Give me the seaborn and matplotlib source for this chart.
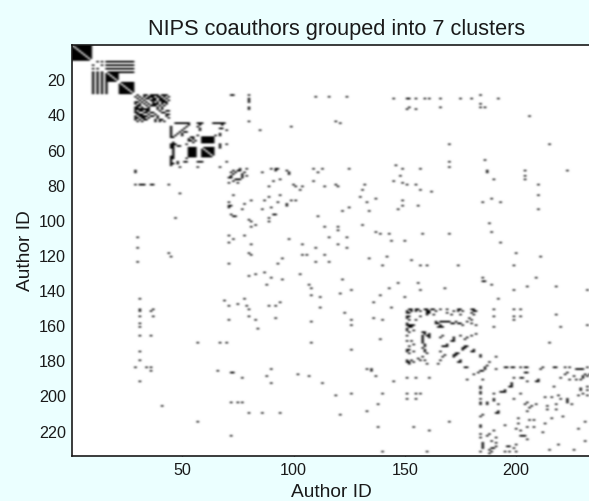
import numpy as np
import matplotlib
matplotlib.use("Agg")
import matplotlib.pyplot as plt
import seaborn as sns

N_AUTHORS = 234
tick_values = [20, 40, 60, 80, 100, 120, 140, 160, 180, 200, 220]
xtick_values = [50, 100, 150, 200]

# cliques: authors fully linked to each other
clique_1 = list(range(1, 10))
clique_2a = list(range(16, 22))
clique_2b = list(range(22, 29))
clique_4b = list(range(59, 65))
# bipartite groups
hubs_2 = [10, 12, 14, 16]
hub_targets_2 = [12, 14, 16, 17, 18, 19, 20, 21, 22, 23, 24, 25, 26, 27, 28]
group_4a = [53, 54, 55, 56]
group_4b = [59, 60, 61, 62, 63, 64]
one_way_col46 = [56, 57, 58, 59, 60, 61, 62, 63, 64, 65]

links_c3 = [(29, b) for b in [30, 33, 34, 36, 37, 38, 39, 41, 42, 43]] + \
           [(30, b) for b in [31, 33, 35, 36, 37, 39, 40, 42, 44]] + \
           [(31, b) for b in [32, 34, 35, 37, 38, 40, 41, 43]] + \
           [(32, b) for b in [33, 36, 37, 38, 40, 41, 42, 44]] + \
           [(33, b) for b in [34, 37, 39, 41, 42, 43]] + \
           [(34, b) for b in [35, 37, 38, 39, 41, 43]] + \
           [(35, b) for b in [36, 37, 38, 40, 42]] + \
           [(36, 39), (36, 41), (37, 39), (37, 41),
            (38, 40), (38, 43), (38, 44), (39, 41), (39, 42), (40, 43), (40, 44),
            (41, 43), (42, 44)]

links_c4 = [(45, b) for b in [47, 48, 49, 50, 51, 52, 53, 57, 58, 59, 64, 65, 66, 67, 68, 69]] + \
           [(46, 53), (47, 52), (48, 51), (49, 50), (46, 58), (48, 58), (49, 58),
            (50, 52), (50, 51), (48, 67), (48, 68), (49, 70), (51, 67), (52, 67),
            (52, 65), (47, 57), (52, 57), (57, 67), (57, 70), (58, 67), (59, 67),
            (53, 54), (53, 55), (54, 55), (55, 56), (67, 70), (46, 68)]

links_c5 = [(71, 76), (71, 79), (72, 75), (73, 72), (74, 73), (75, 77), (75, 79),
            (76, 72), (77, 76), (78, 73), (79, 71), (72, 76), (74, 77)]

links_left = [(29, 72), (29, 80), (31, 80), (33, 80), (36, 80), (44, 80), (73, 29)]
links_col80 = [(29, 80), (31, 80), (32, 80), (33, 80), (37, 80), (44, 80)]

links_far_1 = [(29, 184), (30, 110), (30, 116), (30, 124), (31, 145), (31, 151),
               (31, 152), (31, 155), (31, 159), (31, 161), (31, 166), (31, 175),
               (31, 180), (31, 192), (34, 184), (36, 184), (36, 186), (36, 166),
               (36, 152), (37, 151), (37, 155), (41, 206), (44, 119), (45, 121),
               (47, 99), (49, 85), (57, 170), (57, 215), (66, 186), (67, 170),
               (70, 170), (69, 146), (71, 149), (71, 157), (71, 90), (71, 92),
               (71, 93), (71, 109), (71, 113), (71, 125), (72, 92), (72, 97),
               (72, 187), (72, 204), (72, 223), (73, 86), (73, 98), (73, 111),
               (73, 187), (74, 98), (75, 148), (75, 204), (77, 94), (77, 190),
               (77, 204), (78, 91), (78, 109), (78, 145), (79, 149), (80, 100),
               (80, 119), (80, 132), (80, 151), (80, 155), (80, 210)]
links_far_2 = [(81, 89), (81, 101), (81, 104), (81, 114), (81, 120), (83, 103),
               (83, 131), (83, 157), (84, 162), (86, 94), (86, 210), (87, 89),
               (87, 130), (88, 137), (88, 189), (89, 99), (89, 101), (89, 149),
               (90, 93), (90, 133), (90, 185), (90, 193), (91, 97), (92, 97),
               (92, 149), (92, 156), (93, 125), (94, 147), (94, 210), (95, 122),
               (95, 134), (98, 111), (102, 188), (103, 131), (104, 114), (104, 120),
               (106, 120), (107, 137), (107, 189), (108, 139), (108, 143), (108, 158),
               (108, 170), (110, 116), (110, 124), (112, 144), (112, 150), (113, 193),
               (114, 120), (116, 124), (119, 200), (121, 142), (121, 211), (122, 134)]
links_far_3 = [(123, 153), (126, 140), (126, 157), (126, 160), (126, 174), (126, 199),
               (136, 147), (139, 143), (136, 156), (140, 157), (139, 168), (133, 185),
               (135, 185), (135, 186), (137, 189), (140, 199), (138, 205), (133, 209),
               (138, 218), (145, 192), (140, 232), (144, 150), (151, 190), (155, 190),
               (161, 190), (151, 199), (151, 202), (155, 199), (155, 202), (157, 199),
               (154, 218), (161, 220), (170, 215), (178, 191), (178, 184), (160, 232)]

links_c6 = [(151, b) for b in [152, 153, 155, 156, 159, 160, 162, 163, 166, 169,
                               174, 175, 180, 181]] + \
           [(152, b) for b in [153, 155, 157, 160, 161, 164, 172, 174, 176, 182]] + \
           [(153, 160), (153, 161), (153, 180), (154, 160), (154, 163), (154, 171),
            (154, 175), (155, 157), (159, 165), (158, 166), (158, 168), (158, 170),
            (159, 172), (159, 174), (160, 176), (158, 178), (157, 180), (160, 182),
            (161, 165), (161, 167), (167, 172), (166, 175), (167, 178),
            (166, 180), (165, 182), (172, 177), (172, 178),
            (176, 174), (177, 173), (177, 184),
            (158, 164), (158, 167), (158, 169), (159, 171), (168, 177),
            (153, 169), (154, 171), (151, 174), (158, 173), (159, 175), (156, 179),
            (152, 181), (154, 181), (159, 180), (169, 172), (169, 171), (168, 172),
            (173, 176), (174, 181), (175, 180), (175, 181), (166, 167),
            (160, 166), (161, 166), (164, 159), (166, 161)]

links_c7 = [(184, b) for b in [195, 196, 198, 199, 202, 204, 205, 212, 217, 218, 222, 224, 232]] + \
           [(185, b) for b in [191, 211, 228, 230, 227]] + \
           [(181, 188), (183, 187), (185, 186), (184, 186), (187, 204), (187, 205),
            (190, 199), (190, 203), (191, 210), (190, 202), (192, 205), (192, 209),
            (192, 210), (193, 198), (194, 198), (195, 198), (195, 197), (199, 202),
            (187, 223), (188, 222), (190, 220), (191, 224), (191, 227), (191, 229),
            (189, 226), (188, 231), (189, 232), (189, 230), (195, 217), (196, 229),
            (195, 232), (197, 232), (199, 230), (200, 228), (200, 232), (201, 213),
            (201, 216), (200, 219), (202, 220), (202, 223), (203, 223), (204, 223),
            (205, 225), (206, 214), (208, 214), (205, 218), (208, 218), (205, 209),
            (206, 207), (204, 205), (213, 216), (212, 221), (215, 231), (219, 228),
            (226, 231), (188, 233), (190, 230), (197, 229), (185, 229)]

# ---- build the symmetric co-authorship matrix
M = np.zeros((N_AUTHORS, N_AUTHORS), dtype=int)


def link(a, b):
    if a != b:
        M[a - 1, b - 1] = 1
        M[b - 1, a - 1] = 1


for clique in [clique_1, clique_2a, clique_2b, clique_4b]:
    for a in clique:
        for b in clique:
            link(a, b)
for a in hubs_2:
    for b in hub_targets_2:
        link(a, b)
for a in group_4a:
    for b in group_4b:
        link(a, b)
for links in [links_c3, links_c4, links_c5, links_col80, links_far_1, links_far_2,
              links_far_3, links_c6, links_c7, links_left]:
    for a, b in links:
        link(a, b)
for r in one_way_col46:
    M[r - 1, 45] = 1

BG = "#EBFFFF"
INK = "#1a1a1a"
plt.rcParams["font.family"] = ["Liberation Sans", "DejaVu Sans"]

fig = plt.figure(figsize=(5.89, 5.02), dpi=100, facecolor=BG)
W, H = 589.0, 502.0
ax = fig.add_axes([72 / W, 1 - 457 / H, (593 - 72) / W, (457 - 46) / H])
sns.heatmap(M, ax=ax, cmap=["white", "#000000"], cbar=False, vmin=0, vmax=1,
            square=False, xticklabels=False, yticklabels=False)
# the reference image is a resampled bitmap: soften the cells the same way
ax.imshow(M, cmap="gray_r", vmin=0, vmax=0.7, interpolation="bicubic", aspect="auto",
          extent=(0, N_AUTHORS, N_AUTHORS, 0), zorder=2)
ax.set_xlim(0, N_AUTHORS)
ax.set_ylim(N_AUTHORS, 0)

ax.set_xticks([v - 0.5 for v in xtick_values])
ax.set_xticklabels([str(v) for v in xtick_values], fontsize=11.6, color=INK)
ax.set_yticks([v - 0.5 for v in tick_values])
ax.set_yticklabels([str(v) for v in tick_values], fontsize=11.6, rotation=0, color=INK)
ax.tick_params(axis="both", direction="in", length=3.2, width=0.9, color=INK,
               top=True, right=True, bottom=True, left=True, pad=4.5)
for s in ax.spines.values():
    s.set_visible(True)
    s.set_linewidth(1.2)
    s.set_color(INK)
    s.set_zorder(5)

ax.set_xlabel("Author ID", fontsize=13.8, color=INK)
ax.set_ylabel("Author ID", fontsize=13.8, color=INK)
ax.xaxis.set_label_coords((331.5 - 72) / 521, -(484 - 457) / 411)
ax.yaxis.set_label_coords(-(72 - 34) / 521, (457 - 251) / 411)
fig.text(337 / W, 1 - 29.5 / H, "NIPS coauthors grouped into 7 clusters", fontsize=15.7,
         color=INK, ha="center", va="center")

fig.savefig("out.png", dpi=100, facecolor=BG)
